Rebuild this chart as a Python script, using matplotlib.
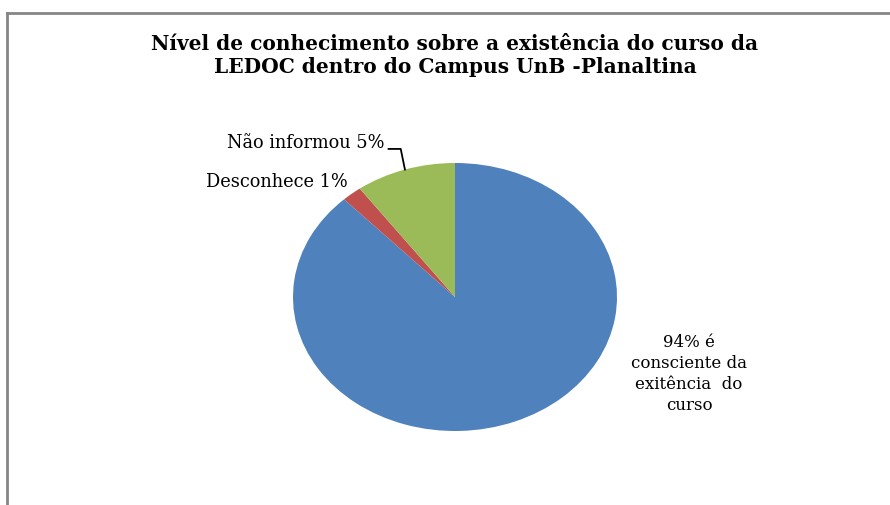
import matplotlib.pyplot as plt
import numpy as np
from matplotlib.lines import Line2D

# dados
categorias = ['94% é\nconsciente da\nexitência  do\ncurso', 'Desconhece 1%', 'Não informou 5%']
valores = [88, 2, 10]
cores = ['#4F81BD', '#C0504D', '#9BBB59']
titulo = 'Nível de conhecimento sobre a existência do curso da\nLEDOC dentro do Campus UnB -Planaltina'

# o original usa uma serifa "esticada"; DejaVu Serif tem largura parecida
plt.rcParams['font.family'] = ['DejaVu Serif']

W, H = 890, 505
fig = plt.figure(figsize=(W / 100, H / 100), dpi=100)

# moldura cinza (área do gráfico recortada)
fig.add_artist(Line2D([7 / W, 7 / W], [0, 1 - 13 / H], color='#868686', lw=2))
fig.add_artist(Line2D([7 / W, 1], [1 - 13 / H, 1 - 13 / H], color='#868686', lw=2))

fig.text(455 / W, 1 - 55.5 / H, titulo, ha='center', va='center',
         fontsize=14.5, fontweight='bold', linespacing=1.22)

# eixo da pizza (elipse achatada)
ax = fig.add_axes([293 / W, 1 - 431 / H, 324 / W, 268 / H])
wedges, _ = ax.pie(valores, colors=cores, startangle=90, counterclock=False,
                   wedgeprops=dict(linewidth=0))
ax.set_aspect('auto')
ax.set_xlim(-1, 1)
ax.set_ylim(-1, 1)
ax.axis('off')

# rótulos
ax.text(1.445, -0.575, categorias[0], ha='center', va='center', fontsize=12,
        linespacing=1.3, clip_on=False)
ax.text(-0.665, 0.86, categorias[1], ha='right', va='center', fontsize=12.8, clip_on=False)
ax.text(-0.435, 1.15, categorias[2], ha='right', va='center', fontsize=12.8, clip_on=False)

# linha de chamada até o meio da fatia verde
w = wedges[2]
mid = np.deg2rad((w.theta1 + w.theta2) / 2)
px, py = np.cos(mid), np.sin(mid)
ax.plot([-0.41, -0.335, px], [1.105, 1.105, py], color='black', lw=1.3, clip_on=False)

fig.savefig('out.png', dpi=100)
